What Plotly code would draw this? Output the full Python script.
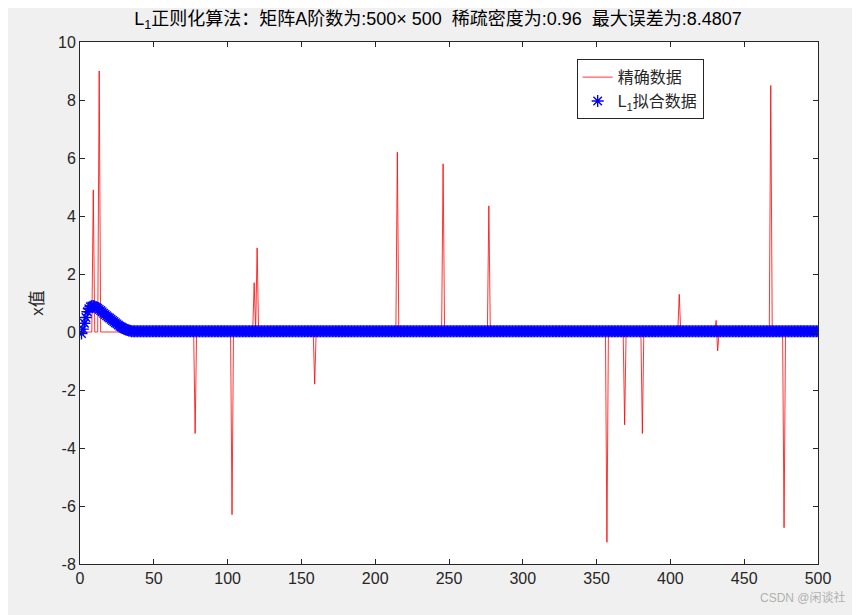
import plotly.graph_objects as go

n = 500
spike_idx = [9, 13, 78, 103, 118, 120, 159, 215, 246, 277, 357, 369, 381, 390, 406, 431, 432, 468, 477]
spike_val = [4.9, 9.0, -3.5, -6.3, 1.7, 2.9, -1.8, 6.2, 5.8, 4.35, -7.25, -3.2, -3.5, 0.15, 1.3, 0.4, -0.65, 8.5, -6.75]
fit_head = [-0.05, 0.1, 0.3, 0.5, 0.7, 0.8, 0.87, 0.9, 0.9, 0.88, 0.85, 0.82, 0.78, 0.74, 0.7, 0.65, 0.6, 0.56, 0.52,
            0.48, 0.44, 0.4, 0.36, 0.32, 0.28, 0.24, 0.2, 0.17, 0.14, 0.11, 0.09, 0.07, 0.05, 0.04, 0.03]
fit_tail = 0.03
y_ticks = list(range(-8, 11, 2))
y_ticklabels = [str(v) for v in y_ticks]

x = list(range(1, n + 1))
exact = [0.0] * n
for i, v in zip(spike_idx, spike_val):
    exact[i - 1] = v
fit = fit_head + [fit_tail] * (n - len(fit_head))

fig = go.Figure()
fig.add_trace(go.Scatter(x=x, y=exact, mode="lines", line=dict(color="red", width=0.8), name="精确数据"))
fig.add_trace(go.Scatter(x=x, y=fit, mode="markers", name="L<sub>1</sub>拟合数据",
                         marker=dict(symbol="asterisk-open", size=10, color="blue", line=dict(color="blue", width=1.4))))

ax = dict(showline=True, linecolor="#262626", linewidth=1, mirror="ticks", ticks="inside", ticklen=5,
          tickcolor="#262626", showgrid=False, zeroline=False, automargin=False,
          tickfont=dict(size=16, color="#262626"))
fig.update_layout(
    width=860, height=615, paper_bgcolor="#f0f0f0", plot_bgcolor="white",
    margin=dict(l=72, r=50, t=34, b=59),
    font=dict(family="Liberation Sans, Noto Sans CJK SC, sans-serif", color="#262626"),
    title=dict(text="L<sub>1</sub>正则化算法：矩阵A阶数为:500× 500  稀疏密度为:0.96  最大误差为:8.4807",
               x=0.5, xanchor="center", y=0.982, yanchor="middle", font=dict(size=18, color="black")),
    xaxis=dict(range=[0, 500], tickvals=list(range(0, 501, 50)), **ax),
    yaxis=dict(range=[-8, 10], tickvals=y_ticks, ticktext=y_ticklabels,
               title=dict(text="x值", font=dict(size=17), standoff=10), **ax),
    legend=dict(x=0.673, y=0.967, xanchor="left", yanchor="top", bgcolor="white", bordercolor="#262626",
                borderwidth=1, font=dict(size=16, color="#262626")),
    showlegend=True,
    annotations=[dict(text="CSDN @闲谈社", xref="paper", yref="paper", x=1.04, y=-0.065,
                      xanchor="right", yanchor="middle", showarrow=False,
                      font=dict(size=12, color="#b0b0b0"))],
)
fig.write_html("out.html")
